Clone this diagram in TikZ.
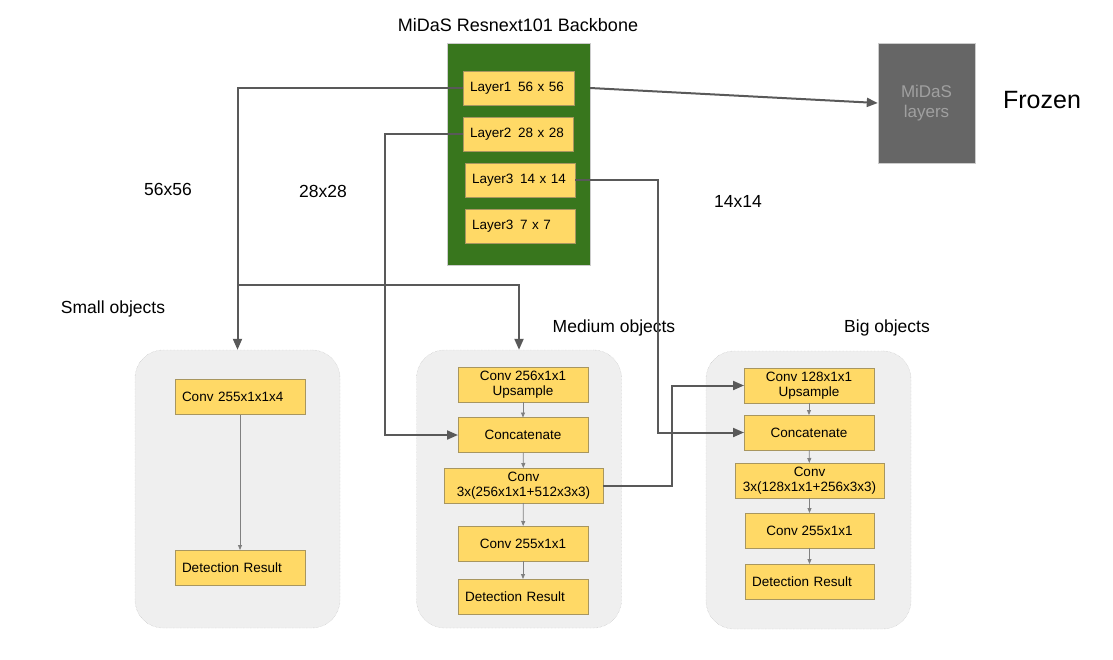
\documentclass[tikz,border=0pt]{standalone}
\usepackage{fontspec}
\setmainfont{Liberation Sans}
\usetikzlibrary{arrows.meta}
\definecolor{verde}{HTML}{38761D}
\definecolor{amarillo}{HTML}{FFD966}
\definecolor{borde}{HTML}{A8965F}
\definecolor{gris}{HTML}{595959}
\definecolor{fondo}{HTML}{EFEFEF}
\definecolor{oscuro}{HTML}{666666}
\definecolor{claro}{HTML}{A0A0A0}
\begin{document}
\begin{tikzpicture}[x=1pt,y=-1pt,
    capa/.style={draw=borde,fill=amarillo,line width=0.8pt,minimum width=130pt,minimum height=35pt,
        inner sep=1pt,outer sep=0pt,align=center,font=\fontsize{13.5}{14.5}\selectfont},
    capaizq/.style={capa,text width=116pt,inner xsep=7pt,align=left},
    grupo/.style={draw=gray!55,densely dotted,fill=fondo,rounded corners=28pt,minimum width=205pt,minimum height=278pt},
    flecha/.style={draw=gris,line width=2pt,-{Triangle[length=11pt,width=9pt]}},
    fina/.style={draw=gray,line width=0.8pt,-{Triangle[length=5pt,width=4pt]}},
    etiq/.style={font=\fontsize{17.5}{20}\selectfont}]
    \useasboundingbox (0,0) rectangle (1113,659);

    % Backbone
    \node[font=\fontsize{18}{20}\selectfont] (titulo) at (518,25) {MiDaS Resnext101 Backbone};
    \node[draw=gray!40,fill=verde,minimum width=143pt,minimum height=222pt] (verde) at (518.5,154) {};
    \node[capaizq,minimum width=111pt,text width=97pt,minimum height=34pt] (c1) at (518.5,88) {Layer1\enspace 56 x 56};
    \node[capaizq,minimum width=110pt,text width=96pt,minimum height=34pt] (c2) at (518,134) {Layer2\enspace 28 x 28};
    \node[capaizq,minimum width=110pt,text width=96pt,minimum height=34pt] (c3) at (520,180) {Layer3\enspace 14 x 14};
    \node[capaizq,minimum width=110pt,text width=96pt,minimum height=34pt] (c4) at (520,226) {Layer3\enspace 7 x 7};

    % Capas congeladas
    \node[draw=gray!40,fill=oscuro,minimum width=97pt,minimum height=120pt,
        text=claro,align=center,font=\fontsize{17}{20}\selectfont] (midas) at (926.5,103) {MiDaS\\layers};
    \node[font=\fontsize{25}{28}\selectfont] (frozen) at (1042,100) {Frozen};

    % Etiquetas
    \node[etiq] (t56) at (168,189) {56x56};
    \node[etiq] (t28) at (323,191) {28x28};
    \node[etiq] (t14) at (738,201) {14x14};
    \node[etiq] (tpeq) at (113,309) {Small objects};
    \node[etiq] (tmed) at (614,328) {Medium objects};
    \node[etiq] (tgra) at (887,328) {Big objects};

    % Objetos pequenos
    \node[grupo] (gpeq) at (237.5,489) {};
    \node[capaizq] (pconv) at (240,397) {Conv 255x1x1x4};
    \node[capaizq] (pdet) at (240,567.5) {Detection Result};
    \draw[fina] (pconv) -- (pdet);

    % Objetos medianos
    \node[grupo] (gmed) at (519,489) {};
    \node[capa] (mup) at (523,384.5) {Conv 256x1x1\\Upsample};
    \node[capa] (mcat) at (523,435) {Concatenate};
    \node[capa,minimum width=159pt] (mconv) at (523.5,485.5) {Conv\\3x(256x1x1+512x3x3)};
    \node[capa] (m255) at (523,543.5) {Conv 255x1x1};
    \node[capaizq] (mdet) at (523,596.5) {Detection Result};
    \draw[fina] (mup) -- (mcat);
    \draw[fina] (mcat) -- (mconv);
    \draw[fina] (mconv) -- (m255);
    \draw[fina] (m255) -- (mdet);

    % Objetos grandes
    \node[grupo] (ggra) at (808.5,490) {};
    \node[capa] (bup) at (809,385.5) {Conv 128x1x1\\Upsample};
    \node[capa] (bcat) at (809,432.5) {Concatenate};
    \node[capa,minimum width=149pt] (bconv) at (809.5,480.5) {Conv\\3x(128x1x1+256x3x3)};
    \node[capa,minimum width=129pt] (b255) at (809.5,530.5) {Conv 255x1x1};
    \node[capaizq,minimum width=129pt,text width=115pt] (bdet) at (809.5,581.5) {Detection Result};
    \draw[fina] (bup) -- (bcat);
    \draw[fina] (bcat) -- (bconv);
    \draw[fina] (bconv) -- (b255);
    \draw[fina] (b255) -- (bdet);

    % Conexiones
    \draw[flecha] (c1.east -| verde.east) -- (midas.west);
    \draw[flecha] (c1.west) -| (gpeq.north);
    \coordinate (rama) at (gpeq.north |- 0,285);
    \draw[flecha] (rama) -| (gmed.north);
    \draw[flecha] (c2.west) -- ++(-78,0) |- (mcat.west);
    \draw[flecha] (c3.east) -- ++(83,0) |- (bcat.west);
    \draw[flecha] (mconv.east) -- ++(69,0) |- (bup.west);
\end{tikzpicture}
\end{document}
